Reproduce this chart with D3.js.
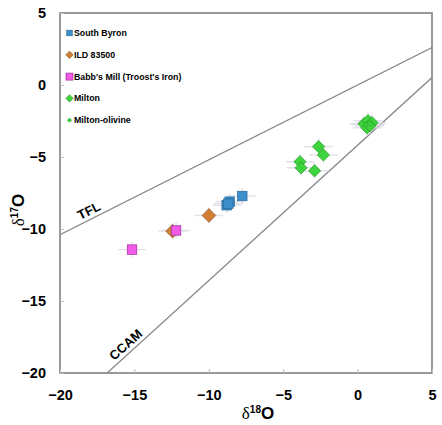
<!DOCTYPE html>
<html>
<head>
  <meta charset="utf-8"/>
  <script src="https://d3js.org/d3.v7.min.js"></script>
<style>
body { margin: 0; background: #fff; }
svg text { font-family: "Liberation Sans", Arial, sans-serif; font-weight: bold; fill: #000; }
.tick text { font-size: 14.5px; }
.legend text { font-size: 8.8px; }
</style>
</head>
<body>
<svg id="chart" width="442" height="425"></svg>
<script>
// data: [d18O, d17O]
var southByron = [[-8.8, -8.35], [-8.6, -8.1], [-8.69, -8.24], [-7.75, -7.71]];
var ild83500 = [[-12.43, -10.15], [-9.99, -9.06]];
var babbsMill = [[-15.16, -11.43], [-12.2, -10.1]];
var milton = [[-3.87, -5.33], [-3.80, -5.75], [-2.62, -4.28], [-2.30, -4.86], [-2.89, -5.96],
              [0.43, -2.69], [0.70, -2.48], [0.97, -2.62], [0.63, -2.97], [0.83, -2.83]];
var miltonOlivine = [[0.55, -2.78], [0.9, -2.72]];
var errX = 0.95, errY = 0.55;

var xTicks = [-20, -15, -10, -5, 0, 5];
var yTicks = [-20, -15, -10, -5, 0, 5];

// reference lines: d17O = slope * d18O + icpt
var refLines = [
  {name: "TFL", slope: 0.52, icpt: 0},
  {name: "CCAM", slope: 0.94, icpt: -4.18}
];

var svg = d3.select("#chart");
var x = d3.scaleLinear().domain([-20, 5]).range([60, 432]);
var y = d3.scaleLinear().domain([-20, 5]).range([373, 13]);

var axisColor = "#808080";

// clip for lines
svg.append("clipPath").attr("id", "clip")
  .append("rect").attr("x", 60).attr("y", 13).attr("width", 372).attr("height", 360);

// box
svg.append("rect").attr("x", 60).attr("y", 13).attr("width", 372).attr("height", 360)
  .attr("fill", "none").attr("stroke", axisColor).attr("stroke-width", 1.6);

var gx = svg.append("g").attr("transform", "translate(0,373)")
  .call(d3.axisBottom(x).tickValues(xTicks).tickSize(-4).tickPadding(14));
var gy = svg.append("g").attr("transform", "translate(60,0)")
  .call(d3.axisLeft(y).tickValues(yTicks).tickSize(-4).tickPadding(14));
[gx, gy].forEach(function(g) {
  g.select(".domain").remove();
  g.selectAll(".tick line").attr("stroke", "#bbb").attr("stroke-width", 1);
});
gx.selectAll(".tick text").attr("dy", "0.9em");

// reference lines
var lineG = svg.append("g").attr("clip-path", "url(#clip)");
refLines.forEach(function(l) {
  lineG.append("line")
    .attr("x1", x(-20)).attr("y1", y(l.slope * -20 + l.icpt))
    .attr("x2", x(5)).attr("y2", y(l.slope * 5 + l.icpt))
    .attr("stroke", "#888").attr("stroke-width", 1.3);
});

function lineLabel(l, xv, off) {
  var ang = Math.atan(l.slope * (y(0) - y(1)) / (x(1) - x(0))) * 180 / Math.PI;
  var px = x(xv), py = y(l.slope * xv + l.icpt);
  svg.append("text")
    .attr("transform", "translate(" + px + "," + py + ") rotate(" + (-ang) + ")")
    .attr("y", -off).attr("text-anchor", "middle").style("font-size", "13px")
    .text(l.name);
}
lineLabel(refLines[0], -17.8, 4);
lineLabel(refLines[1], -15.2, 4);

// error bars
var allPts = [].concat(southByron, ild83500, babbsMill, milton, miltonOlivine);
var errG = svg.append("g").attr("stroke", "#dcdce6").attr("stroke-width", 1.5).attr("opacity", 0.8);
allPts.forEach(function(d) {
  errG.append("line").attr("x1", x(d[0] - errX)).attr("x2", x(d[0] + errX))
    .attr("y1", y(d[1])).attr("y2", y(d[1]));
  errG.append("line").attr("x1", x(d[0])).attr("x2", x(d[0]))
    .attr("y1", y(d[1] - errY)).attr("y2", y(d[1] + errY));
});

var series = [
  {name: "South Byron", data: southByron, shape: "square", size: 9.5, fill: "#3d8fc9", stroke: "#2a6a9c", lsize: 5.5},
  {name: "ILD 83500", data: ild83500, shape: "diamond", size: 9.5, fill: "#d07f35", stroke: "#8a5020", lsize: 5},
  {name: "Babb's Mill (Troost's Iron)", data: babbsMill, shape: "square", size: 9.5, fill: "#f05ae6", stroke: "#a030a0", lsize: 7},
  {name: "Milton", data: milton, shape: "diamond", size: 8.5, fill: "#3ed43e", stroke: "#229a22", lsize: 5},
  {name: "Milton-olivine", data: miltonOlivine, shape: "circle", size: 3, fill: "#3ed43e", stroke: "#229a22", lsize: 2.5}
];

function drawMark(g, shape, s, cx, cy, fill, stroke) {
  if (shape === "square") {
    g.append("rect").attr("x", cx - s / 2).attr("y", cy - s / 2).attr("width", s).attr("height", s)
      .attr("fill", fill).attr("stroke", stroke).attr("stroke-width", 0.7);
  } else if (shape === "diamond") {
    var h = s * 0.72;
    g.append("path")
      .attr("d", "M" + cx + "," + (cy - h) + "L" + (cx + h) + "," + cy + "L" + cx + "," + (cy + h) + "L" + (cx - h) + "," + cy + "Z")
      .attr("fill", fill).attr("stroke", stroke).attr("stroke-width", 0.7);
  } else {
    g.append("circle").attr("cx", cx).attr("cy", cy).attr("r", s / 2 + 0.5)
      .attr("fill", fill).attr("stroke", stroke).attr("stroke-width", 0.5);
  }
}

var markG = svg.append("g");
series.forEach(function(s) {
  s.data.forEach(function(d) {
    drawMark(markG, s.shape, s.size, x(d[0]), y(d[1]), s.fill, s.stroke);
  });
});

// legend
var leg = svg.append("g").attr("class", "legend");
series.forEach(function(s, i) {
  var ly = 33 + i * 21.8;
  drawMark(leg, s.shape, s.lsize, 69.5, ly, s.fill, s.stroke);
  leg.append("text").attr("x", 74).attr("y", ly).attr("dy", "0.35em").text(s.name);
});

// axis titles
svg.append("text").attr("x", 258).attr("y", 419).attr("text-anchor", "middle").style("font-size", "17px")
  .html('<tspan style="font-family:\'Liberation Serif\',serif;font-weight:normal">δ</tspan><tspan dy="-6" style="font-size:10px">18</tspan><tspan dy="6">O</tspan>');
svg.append("text").attr("transform", "translate(24,210) rotate(-90)").attr("text-anchor", "middle").style("font-size", "17px")
  .html('<tspan style="font-family:\'Liberation Serif\',serif;font-weight:normal">δ</tspan><tspan dy="-6" style="font-size:10px">17</tspan><tspan dy="6">O</tspan>');
</script>
</body>
</html>
